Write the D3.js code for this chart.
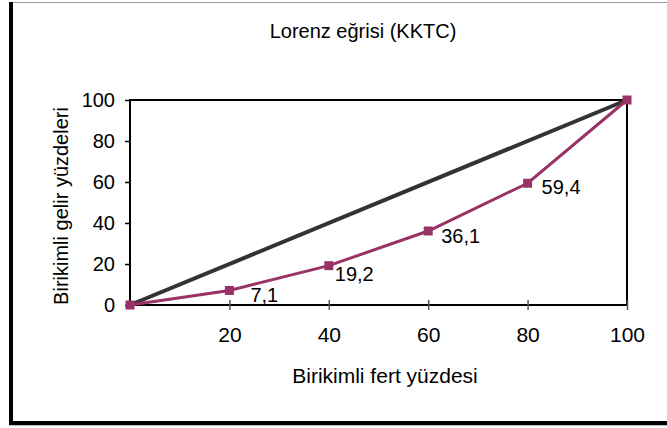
<!DOCTYPE html>
<html>
<head>
<meta charset="utf-8">
<script src="https://cdn.jsdelivr.net/npm/d3@7"></script>
<style>
  body { margin: 0; background: #fff; }
  text { font-family: "Liberation Sans", Arial, sans-serif; fill: #000; }
</style>
</head>
<body>
<div id="chart"></div>
<script>
const W = 667, H = 428;
const margin = { top: 100, right: 40, bottom: 123, left: 130 };
const width = 627 - margin.left;
const height = 305 - margin.top;

// veriler
const fertYuzdesi = [0, 20, 40, 60, 80, 100];
const gelirYuzdesi = [0, 7.1, 19.2, 36.1, 59.4, 100];
const esitlik = [0, 100];
const etiketler = ["", "7,1", "19,2", "36,1", "59,4", ""];
const xTicks = [20, 40, 60, 80, 100];
const yTicks = [0, 20, 40, 60, 80, 100];

// etiket kaydırmaları (yalnızca stil)
const etiketDx = [0, 21, 6, 13, 14, 0];
const etiketDy = [0, 12, 15, 12, 11, 0];

const x = d3.scaleLinear().domain([0, 100]).range([0, width]);
const y = d3.scaleLinear().domain([0, 100]).range([height, 0]);

const root = d3.select("#chart").append("svg")
    .attr("width", W)
    .attr("height", H);

// dış çerçeve
root.append("line").attr("x1", 9).attr("x2", W).attr("y1", 2.5).attr("y2", 2.5)
    .attr("stroke", "#999").attr("stroke-width", 1);
root.append("line").attr("x1", 11).attr("x2", 11).attr("y1", 2).attr("y2", 425)
    .attr("stroke", "#000").attr("stroke-width", 4);
root.append("line").attr("x1", 9).attr("x2", W).attr("y1", 423).attr("y2", 423)
    .attr("stroke", "#000").attr("stroke-width", 4);
root.append("line").attr("x1", 9).attr("x2", W).attr("y1", 425.5).attr("y2", 425.5)
    .attr("stroke", "#bbb").attr("stroke-width", 1);

// başlık
root.append("text")
    .attr("x", 363).attr("y", 38)
    .attr("text-anchor", "middle")
    .style("font-size", "20px")
    .text("Lorenz eğrisi (KKTC)");

const svg = root.append("g")
    .attr("transform", `translate(${margin.left},${margin.top})`);

// çizim alanı çerçevesi
svg.append("rect")
    .attr("width", width).attr("height", height)
    .attr("fill", "none").attr("stroke", "#000").attr("stroke-width", 2);

// Y ekseni
const yAxis = svg.append("g")
    .call(d3.axisLeft(y).tickValues(yTicks).tickSize(5).tickPadding(10));
yAxis.select(".domain").remove();
yAxis.selectAll("line").attr("stroke", "#000").attr("stroke-width", 1.5);
yAxis.selectAll("text").style("font-size", "20px").attr("fill", "#000");

// X ekseni (çapraz işaretler)
const xAxis = svg.append("g")
    .attr("transform", `translate(0,${height})`)
    .call(d3.axisBottom(x).tickValues(xTicks).tickSize(5).tickPadding(17));
xAxis.select(".domain").remove();
xAxis.selectAll("line").attr("y1", -5).attr("stroke", "#555").attr("stroke-width", 1.5);
xAxis.selectAll("text").style("font-size", "21px").attr("fill", "#000");

// eksen başlıkları
root.append("text")
    .attr("x", 385).attr("y", 383)
    .attr("text-anchor", "middle")
    .style("font-size", "21px")
    .text("Birikimli fert yüzdesi");

root.append("text")
    .attr("transform", "translate(68,206) rotate(-90)")
    .attr("text-anchor", "middle")
    .style("font-size", "20px")
    .text("Birikimli gelir yüzdeleri");

// eşitlik doğrusu
const eq = esitlik.map(v => ({ x: v, y: v }));
svg.append("path")
    .datum(eq)
    .attr("fill", "none")
    .attr("stroke", "#333")
    .attr("stroke-width", 4)
    .attr("d", d3.line().x(d => x(d.x)).y(d => y(d.y)));

// Lorenz eğrisi
const data = fertYuzdesi.map((v, i) => ({
    x: v, y: gelirYuzdesi[i], label: etiketler[i], dx: etiketDx[i], dy: etiketDy[i]
}));
svg.append("path")
    .datum(data)
    .attr("fill", "none")
    .attr("stroke", "#993366")
    .attr("stroke-width", 3)
    .attr("d", d3.line().x(d => x(d.x)).y(d => y(d.y)));

svg.selectAll("rect.mk")
    .data(data)
    .join("rect")
    .attr("class", "mk")
    .attr("x", d => x(d.x) - 4.5)
    .attr("y", d => y(d.y) - 4.5)
    .attr("width", 9).attr("height", 9)
    .attr("fill", "#993366");

svg.selectAll("text.lbl")
    .data(data.filter(d => d.label))
    .join("text")
    .attr("class", "lbl")
    .attr("x", d => x(d.x) + d.dx)
    .attr("y", d => y(d.y) + d.dy)
    .style("font-size", "20px")
    .text(d => d.label);
</script>
</body>
</html>
